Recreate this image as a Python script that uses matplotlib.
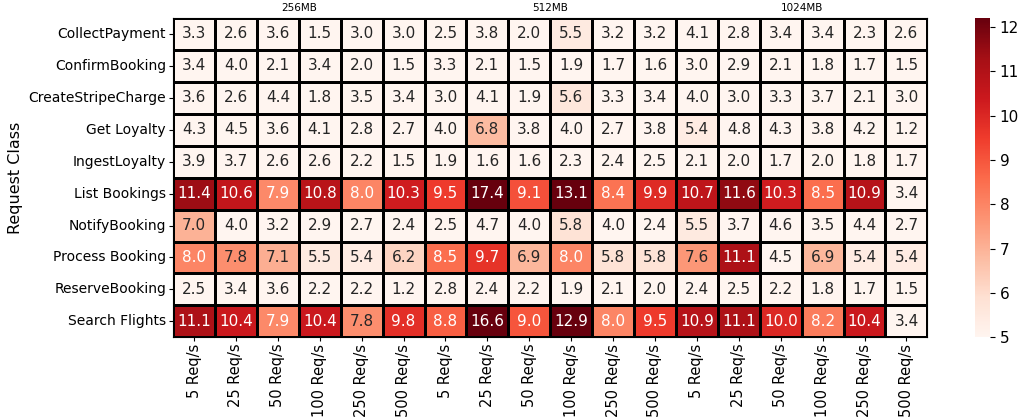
#!/usr/bin/env python
# -*- coding: utf-8 -*-

import numpy as np
import matplotlib
matplotlib.use('Agg')
import matplotlib.pyplot as plt
import seaborn as sns

request_classes = ['CollectPayment', 'ConfirmBooking', 'CreateStripeCharge',
                   'Get Loyalty', 'IngestLoyalty', 'List Bookings',
                   'NotifyBooking', 'Process Booking', 'ReserveBooking',
                   'Search Flights']
rates = ['5 Req/s', '25 Req/s', '50 Req/s', '100 Req/s', '250 Req/s', '500 Req/s']
memory = ['256MB', '512MB', '1024MB']

mem_256 = [
    [3.3, 2.6, 3.6, 1.5, 3.0, 3.0],
    [3.4, 4.0, 2.1, 3.4, 2.0, 1.5],
    [3.6, 2.6, 4.4, 1.8, 3.5, 3.4],
    [4.3, 4.5, 3.6, 4.1, 2.8, 2.7],
    [3.9, 3.7, 2.6, 2.6, 2.2, 1.5],
    [11.4, 10.6, 7.9, 10.8, 8.0, 10.3],
    [7.0, 4.0, 3.2, 2.9, 2.7, 2.4],
    [8.0, 7.8, 7.1, 5.5, 5.4, 6.2],
    [2.5, 3.4, 3.6, 2.2, 2.2, 1.2],
    [11.1, 10.4, 7.9, 10.4, 7.8, 9.8],
]
mem_512 = [
    [2.5, 3.8, 2.0, 5.5, 3.2, 3.2],
    [3.3, 2.1, 1.5, 1.9, 1.7, 1.6],
    [3.0, 4.1, 1.9, 5.6, 3.3, 3.4],
    [4.0, 6.8, 3.8, 4.0, 2.7, 3.8],
    [1.9, 1.6, 1.6, 2.3, 2.4, 2.5],
    [9.5, 17.4, 9.1, 13.1, 8.4, 9.9],
    [2.5, 4.7, 4.0, 5.8, 4.0, 2.4],
    [8.5, 9.7, 6.9, 8.0, 5.8, 5.8],
    [2.8, 2.4, 2.2, 1.9, 2.1, 2.0],
    [8.8, 16.6, 9.0, 12.9, 8.0, 9.5],
]
mem_1024 = [
    [4.1, 2.8, 3.4, 3.4, 2.3, 2.6],
    [3.0, 2.9, 2.1, 1.8, 1.7, 1.5],
    [4.0, 3.0, 3.3, 3.7, 2.1, 3.0],
    [5.4, 4.8, 4.3, 3.8, 4.2, 1.2],
    [2.1, 2.0, 1.7, 2.0, 1.8, 1.7],
    [10.7, 11.6, 10.3, 8.5, 10.9, 3.4],
    [5.5, 3.7, 4.6, 3.5, 4.4, 2.7],
    [7.6, 11.1, 4.5, 6.9, 5.4, 5.4],
    [2.4, 2.5, 2.2, 1.8, 1.7, 1.5],
    [10.9, 11.1, 10.0, 8.2, 10.4, 3.4],
]

def main():
    data = np.hstack([np.array(mem_256), np.array(mem_512), np.array(mem_1024)])
    xlabels = rates * len(memory)

    fig = plt.figure(figsize=(10.18, 4.18), dpi=100)
    ax = fig.add_axes([0.170, 0.193, 0.741, 0.764])
    cax = fig.add_axes([0.958, 0.193, 0.0145, 0.764])

    sns.heatmap(data, ax=ax, cbar_ax=cax, cmap='Reds', vmin=5, vmax=12.2,
                annot=True, fmt='.1f', annot_kws={'fontsize': 11},
                linewidths=0.8, linecolor='black',
                xticklabels=xlabels, yticklabels=request_classes)

    # group separators
    for x in [6, 12]:
        ax.axvline(x, color='black', linewidth=2)
    for spine in ax.spines.values():
        spine.set_visible(True)
        spine.set_color('black')
        spine.set_linewidth(0.8)

    # memory labels on top
    for i, m in enumerate(memory):
        ax.text(i * 6 + 3, -0.15, m, ha='center', va='bottom', fontsize=7.5)

    ax.set_ylabel('Request Class', fontsize=11.5)
    ax.tick_params(axis='x', labelsize=10.5, rotation=90, length=3, pad=1.5)
    ax.tick_params(axis='y', labelsize=10, rotation=0, length=3, pad=2)
    cax.tick_params(labelsize=11)
    cax.set_yticks(range(5, 13))

    plt.savefig('out.png', dpi=100)

if __name__ == '__main__':
    main()
